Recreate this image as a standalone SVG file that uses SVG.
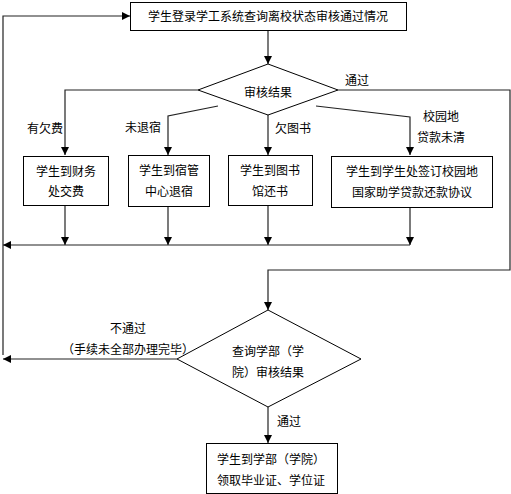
<svg xmlns="http://www.w3.org/2000/svg" width="511" height="494" viewBox="0 0 511 494">
<style>
.box{fill:#fff;stroke:#000;stroke-width:1}
.c{fill:none;stroke:#222;stroke-width:1.2}
text{font-family:"Noto Sans CJK SC","Liberation Sans",sans-serif;font-size:12px;fill:#000}
.m{text-anchor:middle}
</style>
<defs>
<marker id="ah" markerUnits="userSpaceOnUse" markerWidth="8" markerHeight="8" refX="8" refY="4" orient="auto">
<path d="M0,0 L8,4 L0,8 z" fill="#000"/>
</marker>
</defs>
<rect width="511" height="494" fill="#fff"/>
<g id="connectors">
<path class="c" d="M268,30 V64" marker-end="url(#ah)"/>
<path class="c" d="M198,90 H65 V155" marker-end="url(#ah)"/>
<path class="c" d="M218,106 L168,116 V155" marker-end="url(#ah)"/>
<path class="c" d="M268,115 V155" marker-end="url(#ah)"/>
<path class="c" d="M316,106 L410,117 V155" marker-end="url(#ah)"/>
<path class="c" d="M338,90 H510 V270 H268 V310" marker-end="url(#ah)"/>
<path class="c" d="M65,206 V245" marker-end="url(#ah)"/>
<path class="c" d="M168,207 V245" marker-end="url(#ah)"/>
<path class="c" d="M268,206 V245" marker-end="url(#ah)"/>
<path class="c" d="M410,208 V245" marker-end="url(#ah)"/>
<path class="c" d="M410,245 H3" marker-end="url(#ah)"/>
<path class="c" d="M3,355 V16 H130" marker-end="url(#ah)"/>
<path class="c" d="M177,359 H3" marker-end="url(#ah)"/>
<path class="c" d="M268,407 V443" marker-end="url(#ah)"/>
<text x="345" y="85">通过</text>
<text x="27" y="133">有欠费</text>
<text x="125" y="132">未退宿</text>
<text x="275" y="133">欠图书</text>
<text x="423" y="121">校园地</text>
<text x="417" y="142">贷款未清</text>
<text class="m" x="128" y="333">不通过</text>
<text class="m" x="128" y="354">（手续未全部办理完毕）</text>
<text x="277" y="426">通过</text>
</g>
<g id="n1">
<rect class="box" x="130.5" y="2.5" width="276" height="28"/>
<text class="m" x="268" y="21">学生登录学工系统查询离校状态审核通过情况</text>
</g>
<g id="d1">
<path class="box" d="M268,64 L338,90 L268,115 L198,90 Z"/>
<text class="m" x="268" y="97">审核结果</text>
</g>
<g id="b1">
<rect class="box" x="23.5" y="156.5" width="85" height="49"/>
<text class="m" x="66" y="176">学生到财务</text>
<text class="m" x="66" y="196">处交费</text>
</g>
<g id="b2">
<rect class="box" x="128.5" y="155.5" width="81" height="51"/>
<text class="m" x="169" y="175">学生到宿管</text>
<text class="m" x="169" y="196">中心退宿</text>
</g>
<g id="b3">
<rect class="box" x="228.5" y="155.5" width="84" height="50"/>
<text class="m" x="270" y="175">学生到图书</text>
<text class="m" x="270" y="196">馆还书</text>
</g>
<g id="b4">
<rect class="box" x="331.5" y="156.5" width="161" height="51"/>
<text class="m" x="412" y="176">学生到学生处签订校园地</text>
<text class="m" x="412" y="197">国家助学贷款还款协议</text>
</g>
<g id="d2">
<path class="box" d="M268,310 L361,359 L268,407 L177,359 Z"/>
<text x="232" y="356">查询学部（学</text>
<text x="232" y="377">院）审核结果</text>
</g>
<g id="b5">
<rect class="box" x="206.5" y="443.5" width="131" height="50"/>
<text x="217" y="464">学生到学部（学院）</text>
<text x="217" y="485">领取毕业证、学位证</text>
</g>
</svg>
